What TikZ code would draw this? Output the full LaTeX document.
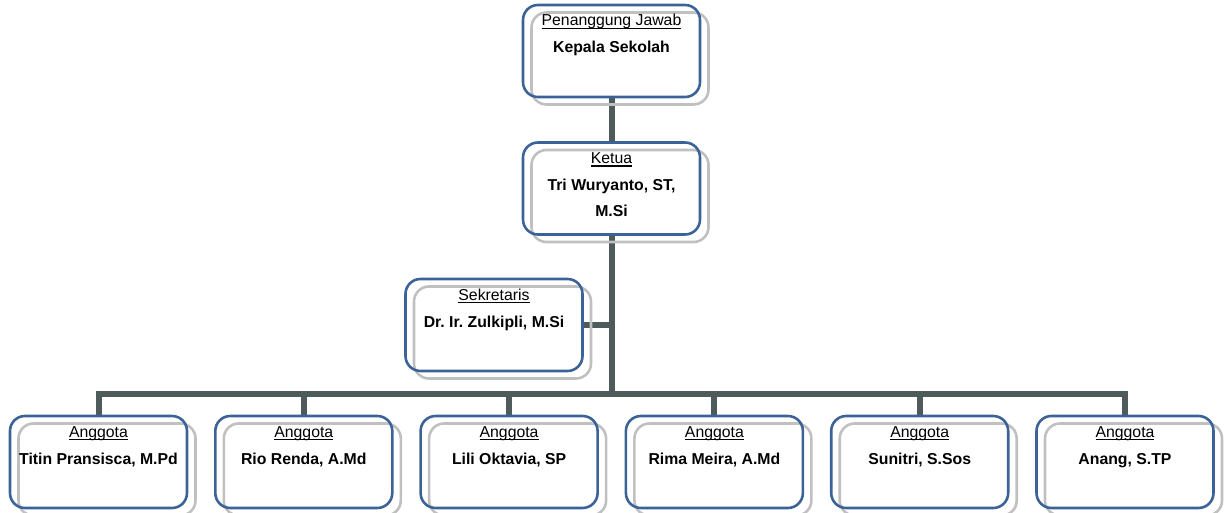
\documentclass[tikz,border=0pt]{standalone}
\usepackage{fontspec}
\setmainfont{Liberation Sans}
\frenchspacing
\newcommand{\myul}[1]{\setbox0\hbox{#1}\rlap{\rule[-3.2pt]{\wd0}{1.3pt}}\box0}
\definecolor{boxblue}{HTML}{3C6398}
\definecolor{shadowgray}{HTML}{C0C0C0}
\definecolor{linegray}{HTML}{4F5B5B}
\pgfdeclarelayer{background}
\pgfsetlayers{background,main}
\tikzset{
  bluebox/.style={draw=boxblue, line width=2.6pt, rounded corners=15pt, minimum width=177pt, minimum height=92pt, inner sep=0pt, outer sep=0pt},
  graybox/.style={draw=shadowgray, line width=2.6pt, rounded corners=15pt, minimum width=177pt, minimum height=92pt, inner sep=0pt, outer sep=0pt},
  hd/.style={anchor=base, inner sep=0pt, font=\fontsize{15.8}{19}\selectfont\frenchspacing},
  nm/.style={anchor=base, inner sep=0pt, font=\fontsize{15.8}{19}\selectfont\bfseries\frenchspacing},
  conn/.style={draw=linegray, line width=6pt, line join=miter},
}
\newcommand{\orgbox}[5]{%
  \node[graybox, anchor=north west] (#1s) at (#2+8.5,#3+7.5) {};
  \node[bluebox, anchor=north west] (#1) at (#2,#3) {};
  \node[hd] (#1h) at ([yshift=-21pt]#1.north) {\myul{#4}};
  \node[nm] (#1n) at ([yshift=-48pt]#1.north) {#5};
}
\begin{document}
\begin{tikzpicture}[x=1pt,y=-1pt]
\useasboundingbox (0,0) rectangle (1228,513);
\orgbox{kep}{523}{5}{Penanggung Jawab}{Kepala Sekolah}
\orgbox{ket}{523}{142.5}{Ketua}{Tri Wuryanto, ST,}
\node[nm] (ketm) at ([yshift=-74pt]ket.north) {M.Si};
\orgbox{sek}{405.5}{279}{Sekretaris}{Dr. Ir. Zulkipli, M.Si}
\orgbox{a1}{10}{416}{Anggota}{Titin Pransisca, M.Pd}
\orgbox{a2}{215.3}{416}{Anggota}{Rio Renda, A.Md}
\orgbox{a3}{420.6}{416}{Anggota}{Lili Oktavia, SP}
\orgbox{a4}{625.9}{416}{Anggota}{Rima Meira, A.Md}
\orgbox{a5}{831.2}{416}{Anggota}{Sunitri, S.Sos}
\orgbox{a6}{1036.5}{416}{Anggota}{Anang, S.TP}
\coordinate (bus) at (611.5,394);
\begin{pgfonlayer}{background}
  \draw[conn] (kep.south) -- (ket.north);
  \draw[conn] (ket.south) -- (bus);
  \draw[conn] (sek.east) -- (sek.east -| bus);
  \draw[conn] (a1.north) -- (a1.north |- bus) -- (a6.north |- bus) -- (a6.north);
  \foreach \n in {a2,a3,a4,a5} {
    \draw[conn] (\n.north |- bus) -- (\n.north);
  }
\end{pgfonlayer}
\end{tikzpicture}
\end{document}
